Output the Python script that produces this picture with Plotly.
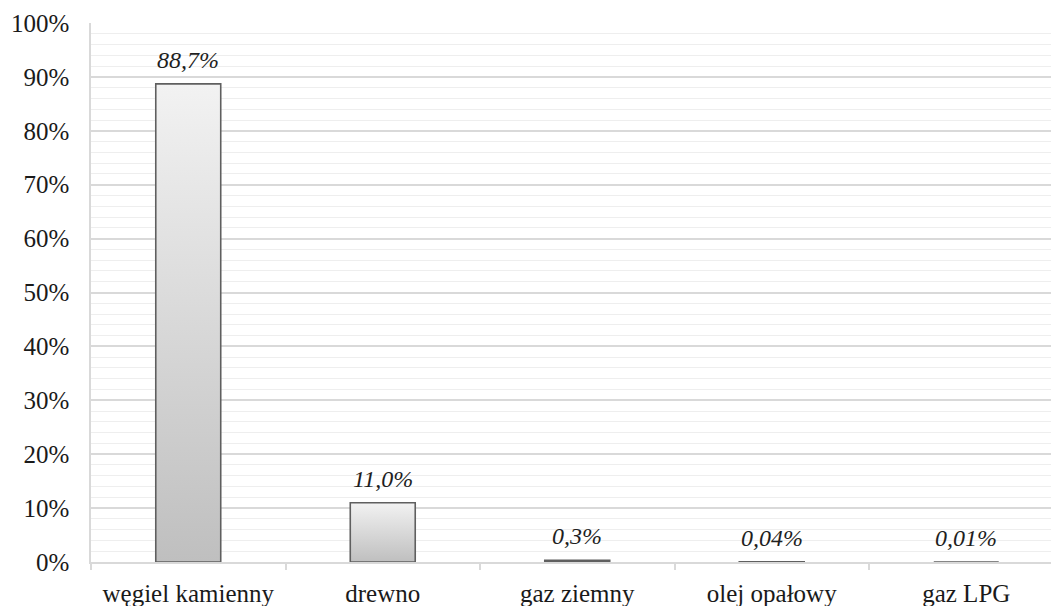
import plotly.graph_objects as go

# Udział paliw w ogrzewaniu budynków (%)
categories = ["węgiel kamienny", "drewno", "gaz ziemny", "olej opałowy", "gaz LPG"]
shares = [88.7, 11.0, 0.3, 0.04, 0.01]
label_decimals = [1, 1, 1, 2, 2]
y_ticks = [0, 10, 20, 30, 40, 50, 60, 70, 80, 90, 100]

BAR_WIDTH = 0.334
FONT = "Liberation Serif"
AXIS_GREY = "#d9d9d9"

fig = go.Figure()

positions = list(range(len(categories)))
for pos, val in zip(positions, shares):
    x0, x1 = pos - BAR_WIDTH / 2, pos + BAR_WIDTH / 2
    fig.add_trace(go.Scatter(
        x=[x0, x0, x1, x1, x0],
        y=[0, val, val, 0, 0],
        mode="lines",
        fill="toself",
        fillgradient=dict(type="vertical",
                          colorscale=[[0, "#bfbfbf"], [1, "#f2f2f2"]]),
        line=dict(color="#5f5f5f", width=1.6),
        hoverinfo="skip",
        showlegend=False,
    ))

def fmt(v, d):
    return f"{v:.{d}f}".replace(".", ",") + "%"

for pos, val, d in zip(positions, shares, label_decimals):
    fig.add_annotation(
        x=pos, y=val, text=fmt(val, d),
        showarrow=False, yanchor="bottom", yshift=9,
        font=dict(family=FONT, size=24, color="#1f1f1f", style="italic"),
    )

n = len(categories)
fig.update_layout(
    width=1051, height=606,
    margin=dict(l=91, r=0, t=23, b=44),
    paper_bgcolor="white", plot_bgcolor="white",
    font=dict(family=FONT, size=25, color="#1a1a1a"),
    xaxis=dict(
        range=[-0.5, -0.5 + 960 / 194.5],
        tickmode="array", tickvals=positions, ticktext=categories,
        ticks="", showgrid=False, zeroline=False,
        showline=True, linecolor=AXIS_GREY, linewidth=1.5,
        ticklabelstandoff=8,
        minor=dict(tickmode="array",
                   tickvals=[p - 0.5 for p in positions] + [n - 0.5],
                   ticks="outside", ticklen=6, tickcolor=AXIS_GREY,
                   tickwidth=1.5, showgrid=False),
    ),
    yaxis=dict(
        range=[0, 100],
        tickmode="array", tickvals=y_ticks,
        ticktext=[f"{v}%" for v in y_ticks],
        ticks="", ticklabelstandoff=15,
        showgrid=True, gridcolor=AXIS_GREY, gridwidth=1.6,
        zeroline=False,
        showline=True, linecolor=AXIS_GREY, linewidth=1.5,
        minor=dict(dtick=2, showgrid=True, gridcolor="#eeeeee", gridwidth=1.4),
    ),
)

fig.write_html("out.html")
